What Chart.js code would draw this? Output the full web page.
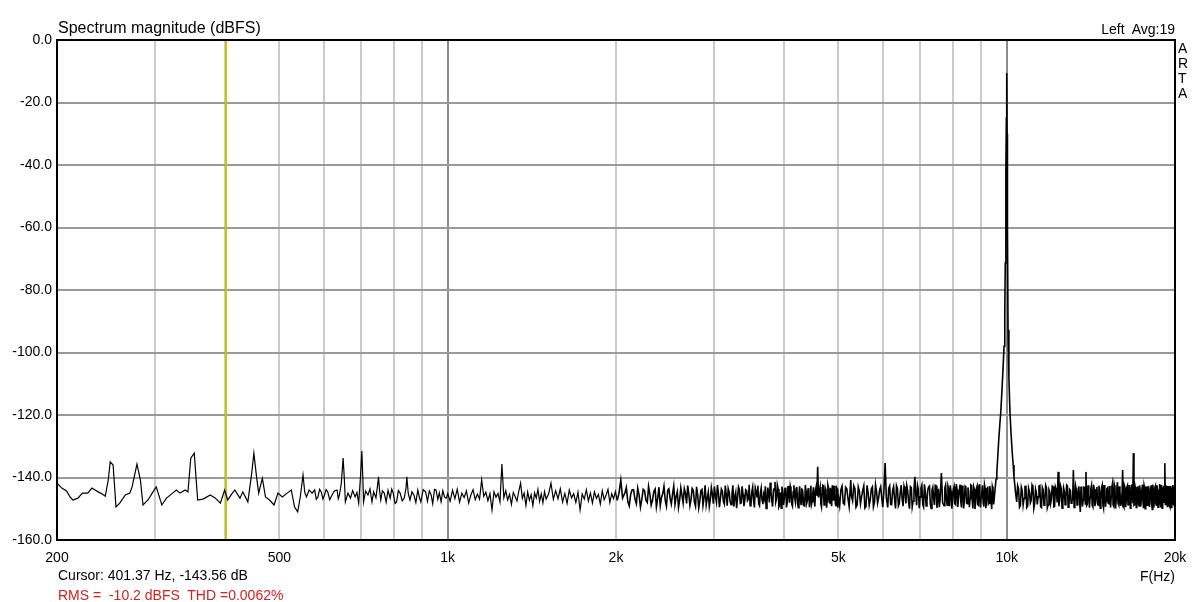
<!DOCTYPE html>
<html>
<head>
<meta charset="utf-8">
<title>Spectrum magnitude</title>
<script src="https://cdn.jsdelivr.net/npm/chart.js@4.4.1/dist/chart.umd.min.js"></script>
<style>
    body { margin: 0; background: #fff; }
    #wrap { position: relative; width: 1200px; height: 602px; font-family: "Liberation Sans", Arial, sans-serif; }
    #spectrum { position: absolute; left: 0; top: 0; }
    .lbl { position: absolute; font-size: 14px; line-height: 1; color: #000; white-space: pre; }
    #title { left: 58px; top: 20px; font-size: 16px; }
    #channel { right: 25px; top: 22px; }
    #arta { left: 1178px; top: 41px; line-height: 15px; }
    #xunit { right: 25px; top: 569px; }
    #cursor { left: 58px; top: 568px; }
    #rms { left: 58px; top: 588px; color: #d42020; }
</style>
</head>
<body>
<div id="wrap">
    <canvas id="spectrum" width="1200" height="602"></canvas>
    <div class="lbl" id="title">Spectrum magnitude (dBFS)</div>
    <div class="lbl" id="channel">Left  Avg:19</div>
    <div class="lbl" id="arta">A<br>R<br>T<br>A</div>
    <div class="lbl" id="xunit">F(Hz)</div>
    <div class="lbl" id="cursor">Cursor: 401.37 Hz, -143.56 dB</div>
    <div class="lbl" id="rms">RMS =  -10.2 dBFS  THD =0.0062%</div>
</div>
<script>
// spectrum, [Hz, dBFS]
const lowBand = [
    [200,-141.8],[204,-143.4],[208,-144.3],[211,-146.2],[213.5,-147.2],[218,-146.6],[222,-145.0],[227,-145.0],
    [231,-143.4],[234,-144.0],[237,-144.6],[241,-145.3],[244,-146.0],[247,-140.8],[249,-135.0],[252,-136.0],
    [255,-149.4],[259,-148.2],[265,-145.6],[270,-145.0],[272.5,-143.0],[278,-135.7],[282,-140.8],[285,-148.8],
    [291,-147.2],[296,-145.0],[301,-143.0],[308,-148.8],[314,-146.6],[322,-145.0],[327,-144.0],[332,-145.0],
    [339,-144.0],[343,-144.6],[347,-133.8],[352,-132.2],[357,-147.2],[365,-146.9],[376,-145.6],[384,-146.6],
    [392,-148.2],[399,-144.0],[404,-147.2],[410,-145.5],[416,-144.0],[425,-146.6],[430,-144.6],[439,-147.8],
    [446,-138.6],[450,-132.2],[455,-139.8],[459,-145.0],[466,-140.2],[472,-146.2],[480,-147.2],[489,-148.8],
    [497,-145.0],[506,-146.2],[516,-145.0],[525,-144.0],[532,-149.4],[539,-151.0],[545,-146.0],[551,-139.2],
    [555,-144.8],[559,-146.2],[565,-144.0],[572,-145.0],[578,-144.0],[582,-147.0],[586,-146.2],[590,-143.8],
    [594,-144.6],[598,-146.9],[602,-145.6],[606,-143.9],[610,-144.6],[615,-147.1],[621,-145.6],[627,-144.3],
    [634,-144.0],[637,-146.8],[640,-145.6],[645,-142.0],[650,-133.8],[653,-140.0],[656,-147.8],[663,-145.0],
    [670,-146.6],[676,-144.2],[683,-146.2],[688,-144.8],[693,-148.2],[698,-140.0],[702,-131.5],[705,-140.5],
    [707,-147.8],[713,-144.3],[720,-145.6],[726,-143.6],[732,-147.8],[737,-144.6],[744,-146.5],[749,-142.5],
    [752,-139.8],[755,-144.0],[759,-147.2],[764,-144.3],[770,-145.0],[776,-147.9],[782,-144.1],[789,-146.6],
    [794,-143.7],[799,-145.0],[805,-148.3],[810,-147.8],[816,-144.2],[822,-145.0],[829,-147.5],[836,-146.6],
    [842,-143.5],[845,-139.8],[850,-145.2],[856,-147.2],[863,-144.6],[870,-145.6],[877,-148.0],[884,-144.0],
    [890,-146.4],[895,-147.8],[904,-143.9],[913,-144.6],[920,-147.6],[927,-144.3],[934,-145.6],[940,-148.4],
    [947,-143.8],[953,-144.0],[960,-147.0],[966,-144.9],[973,-147.8],[980,-144.2],[987,-146.3],[994,-146.6]
];

const midBand = [
    [1000,-145.2],[1010,-147.6],[1020,-144.1],[1030,-146.8],[1040,-143.7],[1050,-147.9],[1060,-145.0],[1070,-146.4],
    [1080,-144.3],[1090,-148.2],[1100,-145.6],[1110,-143.9],[1120,-147.1],[1130,-145.3],[1140,-146.9],[1150,-140.8],
    [1160,-146.0],[1170,-144.7],[1180,-147.4],[1190,-145.2],[1200,-150.4],[1210,-144.6],[1220,-146.3],[1230,-145.1],
    [1240,-147.8],[1250,-135.7],[1260,-146.5],[1270,-144.2],[1280,-147.2],[1290,-145.4],[1300,-148.6],[1310,-144.8],
    [1320,-146.1],[1330,-147.5],[1340,-144.4],[1350,-141.8],[1360,-146.7],[1370,-145.0],[1380,-148.9],[1390,-144.6],
    [1400,-147.3],[1410,-145.5],[1420,-149.0],[1430,-144.9],[1440,-146.6],[1450,-143.8],[1460,-147.7],[1470,-145.2],
    [1480,-148.1],[1490,-144.5],[1500,-146.9],[1515,-145.3],[1530,-141.8],[1545,-147.0],[1560,-144.2],[1575,-146.8],
    [1590,-143.6],[1605,-147.9],[1620,-145.1],[1635,-148.3],[1650,-144.0],[1665,-146.5],[1680,-145.2],[1695,-148.0],
    [1710,-144.7],[1725,-150.4],[1740,-145.3],[1755,-146.9],[1770,-143.9],[1785,-147.5],[1800,-145.0],[1815,-148.2],
    [1830,-144.6],[1845,-146.7],[1860,-145.4],[1875,-148.5],[1890,-144.3],[1905,-147.1],[1920,-145.6],[1935,-143.8],
    [1950,-148.0],[1965,-145.2],[1980,-146.8],[1995,-144.5]
];

const highBand = [
    [2010,-147.3],[2025,-145.0],[2040,-140.8],[2055,-146.6],[2075,-144.9],[2100,-147.8],[2125,-145.3],[2150,-143.9],
    [2175,-148.4],[2200,-145.7],[2225,-146.9],[2250,-144.2],[2275,-148.0],[2300,-145.5],[2325,-147.2],[2350,-143.7],
    [2375,-146.6],[2400,-149.0],[2425,-145.1],[2450,-147.4],[2475,-144.0],[2500,-146.8],[2525,-145.2],[2550,-148.6],
    [2575,-144.5],[2600,-147.1],[2625,-145.8],[2650,-143.6],[2675,-148.3],[2700,-145.4],[2725,-146.9],[2750,-144.1],
    [2775,-149.2],[2800,-145.6],[2825,-147.5],[2850,-143.8],[2875,-146.4],[2900,-148.8],[2925,-144.7],[2950,-147.0],
    [2975,-145.3],[3000,-142.9],[3025,-147.9],[3050,-145.0],[3075,-146.7],[3100,-144.4],[3125,-148.5],[3150,-145.7],
    [3175,-143.5],[3200,-147.6],[3225,-145.1],[3250,-149.3],[3275,-144.8],[3300,-146.5],[3325,-143.9],[3350,-148.1],
    [3375,-145.4],[3400,-147.3],[3425,-144.2],[3450,-146.9],[3475,-149.0],[3500,-144.6],[3525,-147.4],[3550,-143.3],
    [3575,-146.2],[3600,-148.4],[3625,-144.9],[3650,-147.1],[3675,-145.5],[3700,-142.8],[3725,-148.0],[3750,-145.2],
    [3775,-141.6],[3800,-147.3],[3825,-144.1],[3850,-141.4],[3875,-146.8],[3900,-143.7],[3925,-148.7],[3950,-149.8],
    [3975,-144.4],[4000,-146.9],[4025,-143.2],[4050,-147.8],[4075,-145.0],[4100,-142.9],[4125,-148.5],[4150,-144.6],
    [4175,-146.4],[4200,-143.5],[4225,-148.2],[4250,-145.3],[4275,-147.0],[4300,-143.8],[4325,-146.6],[4350,-149.1],
    [4375,-144.3],[4400,-147.5],[4425,-143.4],[4450,-146.1],[4475,-148.6],[4500,-144.7],[4525,-147.2],[4550,-143.9],
    [4575,-145.8],[4590,-136.6],[4605,-146.4],[4625,-144.2],[4650,-148.4],[4675,-145.1],[4700,-142.7],[4725,-147.7],
    [4750,-144.5],[4775,-146.9],[4800,-143.3],[4825,-148.1],[4850,-145.0],[4875,-142.5],[4900,-147.4],[4925,-144.8],
    [4950,-149.0],[4975,-143.6],[5000,-146.3],[5050,-144.0],[5100,-148.2],[5150,-143.1],[5200,-146.7],[5260,-140.8],
    [5300,-147.5],[5350,-143.5],[5400,-148.8],[5450,-144.4],[5500,-146.1],[5550,-142.7],[5600,-149.3],[5650,-144.9],
    [5700,-147.2],[5750,-143.0],[5800,-148.0],[5850,-144.6],[5900,-146.5],[5950,-142.9],[6000,-149.5],[6030,-144.2],
    [6060,-135.4],[6090,-146.4],[6150,-143.4],[6200,-148.6],[6250,-144.1],[6300,-147.0],[6350,-142.6],[6400,-149.1],
    [6450,-144.7],[6500,-146.8],[6550,-142.8],[6600,-148.3],[6650,-144.3],[6700,-150.0],[6750,-143.2],[6800,-147.6],
    [6850,-139.8],[6900,-148.9],[6950,-143.8],[7000,-146.2],[7050,-142.4],[7100,-149.4],[7150,-144.5],[7200,-147.3],
    [7250,-143.0],[7300,-148.5],[7350,-144.0],[7400,-146.6],[7450,-142.5],[7500,-149.7],[7550,-143.6],[7600,-147.1],
    [7640,-138.6],[7680,-148.1],[7750,-143.3],[7800,-146.9],[7850,-142.7],[7900,-149.2],[7950,-144.4],[8000,-147.4],
    [8050,-142.9],[8100,-148.7],[8150,-143.9],[8200,-146.3],[8250,-142.3],[8300,-149.6],[8350,-144.2],[8400,-147.0],
    [8450,-143.1],[8500,-148.4],[8550,-144.6],[8600,-146.7],[8650,-142.6],[8700,-149.9],[8750,-143.7],[8800,-147.5],
    [8850,-142.8],[8900,-148.9],[8950,-144.1],[9000,-146.4],[9050,-142.5],[9100,-149.3],[9150,-143.5],[9200,-147.8],
    [9250,-142.9],[9300,-148.2],[9350,-144.3],[9400,-150.1],[9450,-143.8]
];

// in-between bins of the dense part of the floor
const highBandFill = [
    [2087,-143.2],[2112,-149.1],[2137,-144.0],[2162,-146.8],[2187,-143.4],[2212,-149.5],[2237,-143.8],[2262,-147.3],
    [2287,-142.9],[2312,-148.8],[2337,-144.5],[2362,-149.4],[2387,-143.1],[2412,-146.4],[2437,-142.8],[2462,-149.2],
    [2487,-143.6],[2512,-148.5],[2537,-142.7],[2562,-146.1],[2587,-149.6],[2612,-143.3],[2637,-148.2],[2662,-145.0],
    [2687,-142.6],[2712,-149.0],[2737,-143.5],[2762,-147.8],[2787,-143.0],[2812,-149.7],[2837,-144.2],[2862,-148.9],
    [2887,-142.5],[2912,-146.7],[2937,-149.3],[2962,-143.2],[2987,-148.4],[3012,-145.9],[3037,-142.4],[3062,-149.5],
    [3087,-143.7],[3112,-147.6],[3137,-142.6],[3162,-149.0],[3187,-144.6],[3212,-148.7],[3237,-142.5],[3262,-146.3],
    [3287,-149.8],[3312,-143.0],[3337,-148.3],[3362,-142.8],[3387,-149.2],[3412,-143.9],[3437,-147.4],[3462,-142.3],
    [3487,-148.6],[3512,-143.1],[3537,-149.6],[3562,-144.3],[3587,-142.6],[3612,-149.0],[3637,-143.4],[3662,-148.5],
    [3687,-146.7],[3712,-149.9],[3737,-143.2],[3762,-148.0],[3787,-144.5],[3812,-149.3],[3837,-143.6],[3862,-147.9],
    [3887,-142.4],[3912,-149.4],[3937,-144.8],[3962,-142.9],[3987,-148.8],[4012,-143.5],[4037,-149.6],[4062,-142.7],
    [4087,-148.1],[4112,-144.2],[4137,-149.2],[4162,-142.5],[4187,-147.8],[4212,-143.0],[4237,-149.7],[4262,-142.8],
    [4287,-148.6],[4312,-144.0],[4337,-149.0],[4362,-142.4],[4387,-148.3],[4412,-143.7],[4437,-149.5],[4462,-142.6],
    [4487,-147.7],[4512,-143.1],[4537,-149.3],[4562,-142.9],[4637,-143.0],[4662,-149.4],[4687,-142.5],[4712,-148.8],
    [4737,-143.6],[4762,-149.7],[4787,-142.4],[4812,-147.9],[4837,-143.3],[4862,-149.2],[4887,-145.6],[4912,-142.7],
    [4937,-148.5],[4962,-143.2],[4987,-149.6],[5025,-149.0],[5075,-142.8],[5125,-148.6],[5175,-143.6],[5225,-149.3],
    [5275,-146.0],[5325,-142.6],[5375,-149.5],[5425,-143.0],[5475,-148.4],[5525,-144.2],[5575,-149.8],[5625,-142.5],
    [5675,-148.9],[5725,-143.7],[5775,-149.4],[5825,-142.3],[5875,-148.2],[5925,-143.9],[5975,-146.4],[6125,-149.6],
    [6175,-142.7],[6225,-148.7],[6275,-142.9],[6325,-149.9],[6375,-143.5],[6425,-148.3],[6475,-142.4],[6525,-149.2],
    [6575,-144.1],[6625,-142.6],[6675,-148.0],[6725,-142.9],[6775,-149.4],[6825,-143.8],[6875,-145.2],[6925,-142.5],
    [6975,-149.8],[7025,-143.4],[7075,-148.6],[7125,-142.2],[7175,-149.1],[7225,-144.0],[7275,-142.7],[7325,-149.9],
    [7375,-143.1],[7425,-148.8],[7475,-142.6],[7525,-146.9],[7575,-149.5],[7725,-149.0],[7775,-142.4],[7825,-148.9],
    [7875,-143.6],[7925,-142.5],[7975,-150.0],[8025,-143.8],[8075,-148.4],[8125,-142.1],[8175,-149.4],[8225,-144.3],
    [8275,-147.6],[8325,-142.6],[8375,-149.9],[8425,-142.8],[8475,-148.2],[8525,-143.2],[8575,-149.5],[8625,-142.4],
    [8675,-147.4],[8725,-142.9],[8775,-150.1],[8825,-143.6],[8875,-148.7],[8925,-142.2],[8975,-149.6],[9025,-144.4],
    [9075,-148.0],[9125,-142.3],[9175,-149.8],[9225,-143.5],[9275,-148.5],[9325,-142.7],[9375,-147.6],[9425,-142.9],
    [9475,-148.6]
];

const tone10k = [
    [9500,-146.5],[9540,-143.0],[9570,-140.5],[9600,-138.6],[9640,-133.0],[9680,-127.5],[9720,-123.0],[9755,-119.4],
    [9800,-113.0],[9850,-105.0],[9890,-98.0],[9920,-88.0],[9940,-71.4],[9960,-55.0],[9970,-41.6],[9985,-25.0],
    [10000,-10.6],[10015,-30.0],[10030,-60.0],[10054,-92.8],[10090,-108.0],[10136,-119.4],[10180,-126.0],[10230,-132.0],
    [10270,-136.0],[10304,-139.8],[10340,-142.5],[10380,-145.5]
];

const topBand = [
    [10420,-147.8],[10500,-143.6],[10580,-148.9],[10660,-144.2],[10740,-146.7],[10820,-142.8],[10900,-149.1],[10980,-144.5],
    [11060,-147.3],[11140,-143.1],[11220,-148.4],[11300,-144.9],[11380,-146.2],[11460,-142.6],[11540,-149.6],[11620,-144.0],
    [11700,-147.5],[11780,-143.3],[11860,-148.7],[11940,-144.6],[12020,-146.9],[12100,-142.9],[12180,-149.3],[12260,-143.8],
    [12360,-138.2],[12440,-147.1],[12520,-143.5],[12600,-148.2],[12680,-144.4],[12760,-146.5],[12840,-142.7],[12920,-149.0],
    [13000,-144.1],[13080,-147.6],[13160,-137.6],[13240,-148.5],[13320,-143.9],[13400,-146.8],[13460,-142.8],[13540,-151.0],
    [13620,-144.3],[13700,-147.2],[13780,-143.2],[13860,-138.2],[13940,-148.6],[14020,-144.7],[14100,-146.4],[14180,-142.5],
    [14260,-149.4],[14340,-143.7],[14420,-147.8],[14500,-143.0],[14580,-148.9],[14660,-144.5],[14740,-146.6],[14820,-142.4],
    [14900,-149.7],[14980,-144.0],[15060,-147.4],[15140,-143.4],[15220,-148.3],[15300,-144.8],[15380,-146.1],[15460,-141.9],
    [15540,-149.2],[15620,-143.6],[15700,-147.0],[15780,-141.5],[15860,-148.8],[15940,-144.2],[16020,-146.7],[16120,-137.6],
    [16200,-149.5],[16280,-143.3],[16360,-147.3],[16440,-142.6],[16520,-148.1],[16600,-144.6],[16680,-146.4],[16760,-142.2],
    [16850,-132.2],[16930,-148.7],[17010,-143.9],[17090,-147.6],[17170,-142.8],[17250,-149.1],[17330,-144.3],[17410,-146.9],
    [17490,-142.3],[17570,-149.8],[17650,-143.5],[17730,-147.7],[17810,-142.9],[17890,-148.4],[17970,-144.1],[18050,-146.5],
    [18130,-142.5],[18210,-150.2],[18290,-143.8],[18370,-147.2],[18450,-142.7],[18530,-148.9],[18610,-144.4],[18690,-146.8],
    [18770,-142.1],[18850,-149.6],[18930,-143.4],[19010,-147.9],[19100,-142.6],[19180,-135.4],[19260,-148.3],[19340,-143.7],
    [19420,-147.0],[19500,-142.8],[19580,-149.3],[19660,-144.5],[19740,-146.6],[19820,-142.4],[19900,-148.7],[19980,-144.6]
];

const topBandFill = [
    [10460,-142.6],[10540,-149.5],[10620,-143.1],[10700,-148.8],[10780,-142.9],[10860,-149.6],[10940,-143.4],[11020,-148.1],
    [11100,-142.4],[11180,-149.9],[11260,-143.7],[11340,-148.6],[11420,-142.8],[11500,-149.3],[11580,-143.2],[11660,-148.9],
    [11740,-142.5],[11820,-149.7],[11900,-143.9],[11980,-148.3],[12060,-142.7],[12140,-149.4],[12220,-143.0],[12310,-148.0],
    [12400,-149.2],[12480,-142.6],[12560,-149.8],[12640,-143.3],[12720,-148.7],[12800,-142.4],[12880,-149.5],[12960,-143.8],
    [13040,-148.2],[13120,-146.9],[13200,-149.6],[13280,-142.7],[13360,-148.8],[13430,-143.5],[13500,-147.5],[13580,-142.9],
    [13660,-149.3],[13740,-143.1],[13820,-148.5],[13900,-149.0],[13980,-142.5],[14060,-149.7],[14140,-143.6],[14220,-148.9],
    [14300,-142.3],[14380,-149.2],[14460,-143.9],[14540,-148.4],[14620,-142.6],[14700,-149.8],[14780,-143.2],[14860,-148.6],
    [14940,-142.4],[15020,-149.4],[15100,-143.7],[15180,-148.1],[15260,-142.7],[15340,-149.6],[15420,-143.0],[15500,-148.8],
    [15580,-142.5],[15660,-149.9],[15740,-143.4],[15820,-148.3],[15900,-142.8],[15980,-149.1],[16070,-147.8],[16160,-149.0],
    [16240,-142.6],[16320,-149.5],[16400,-143.1],[16480,-148.7],[16560,-142.4],[16640,-149.8],[16720,-143.5],[16800,-148.2],
    [16890,-148.9],[16970,-142.9],[17050,-149.6],[17130,-143.3],[17210,-148.5],[17290,-142.5],[17370,-149.3],[17450,-143.8],
    [17530,-148.0],[17610,-142.6],[17690,-150.0],[17770,-143.1],[17850,-148.9],[17930,-142.7],[18010,-149.4],[18090,-143.6],
    [18170,-148.4],[18250,-142.3],[18330,-149.7],[18410,-143.2],[18490,-148.6],[18570,-142.5],[18650,-149.5],[18730,-143.9],
    [18810,-148.2],[18890,-142.4],[18970,-149.8],[19050,-143.4],[19140,-147.9],[19220,-148.6],[19300,-142.6],[19380,-149.3],
    [19460,-143.0],[19540,-148.8],[19620,-142.7],[19700,-149.6],[19780,-143.5],[19860,-148.4],[19940,-142.8]
];

// axis grid and labels
const xGridHz = [200, 300, 400, 500, 600, 700, 800, 900, 1000, 2000, 3000, 4000, 5000, 6000, 7000, 8000, 9000, 10000, 20000];
const xMajorHz = [1000, 10000];
const xTickLabels = { 200: '200', 500: '500', 1000: '1k', 2000: '2k', 5000: '5k', 10000: '10k', 20000: '20k' };
const yMin = -160, yMax = 0, yStep = 20;
const cursorHz = 401.37;

const spectrum = lowBand.concat(midBand, highBand, highBandFill, tone10k, topBand, topBandFill)
    .sort((a, b) => a[0] - b[0])
    .map(p => ({ x: p[0], y: p[1] }));

const fontFamily = '"Liberation Sans", Arial, sans-serif';
Chart.defaults.font.family = fontFamily;

const frameAndCursor = {
    id: 'frameAndCursor',
    beforeDatasetsDraw(chart) {
        const { ctx, chartArea } = chart;
        const x = chart.scales.x.getPixelForValue(cursorHz);
        ctx.save();
        ctx.strokeStyle = '#c8c400';
        ctx.lineWidth = 2;
        ctx.beginPath();
        ctx.moveTo(x, chartArea.top);
        ctx.lineTo(x, chartArea.bottom);
        ctx.stroke();
        ctx.restore();
    },
    afterDraw(chart) {
        const { ctx, chartArea } = chart;
        ctx.save();
        ctx.strokeStyle = '#000';
        ctx.lineWidth = 2;
        ctx.strokeRect(chartArea.left, chartArea.top, chartArea.right - chartArea.left, chartArea.bottom - chartArea.top);
        ctx.restore();
    }
};

new Chart(document.getElementById('spectrum'), {
    type: 'line',
    data: {
        datasets: [{
            label: 'Left',
            data: spectrum,
            borderColor: '#000',
            borderWidth: 1.2,
            segment: {
                // the floor above 2 kHz is many bins per pixel: draw it heavier
                borderWidth: ctx => ctx.p0.parsed.x >= 2000 ? 1.6 : 1.2
            },
            pointRadius: 0,
            tension: 0,
            fill: false
        }]
    },
    options: {
        responsive: false,
        animation: false,
        parsing: false,
        layout: { padding: { top: 40, right: 25, left: 0, bottom: 0 } },
        plugins: {
            legend: { display: false },
            tooltip: { enabled: false }
        },
        scales: {
            x: {
                type: 'logarithmic',
                min: 200,
                max: 20000,
                afterBuildTicks: scale => { scale.ticks = xGridHz.map(v => ({ value: v })); },
                afterFit: scale => { scale.height = 62; },
                ticks: {
                    autoSkip: false,
                    maxRotation: 0,
                    padding: 10,
                    color: '#000',
                    font: { size: 14 },
                    callback: value => xTickLabels[value] || ''
                },
                grid: {
                    drawTicks: false,
                    lineWidth: 2,
                    color: ctx => xMajorHz.includes(ctx.tick && ctx.tick.value) ? '#8a8a8a' : '#cbcbcb'
                },
                border: { display: true, color: '#000', width: 2 }
            },
            y: {
                min: yMin,
                max: yMax,
                afterFit: scale => { scale.width = 57; },
                ticks: {
                    stepSize: yStep,
                    padding: 5,
                    color: '#000',
                    font: { size: 14 },
                    callback: value => value.toFixed(1)
                },
                grid: {
                    drawTicks: false,
                    lineWidth: 2,
                    color: '#999999'
                },
                border: { display: true, color: '#000', width: 2 }
            }
        }
    },
    plugins: [frameAndCursor]
});
</script>
</body>
</html>
